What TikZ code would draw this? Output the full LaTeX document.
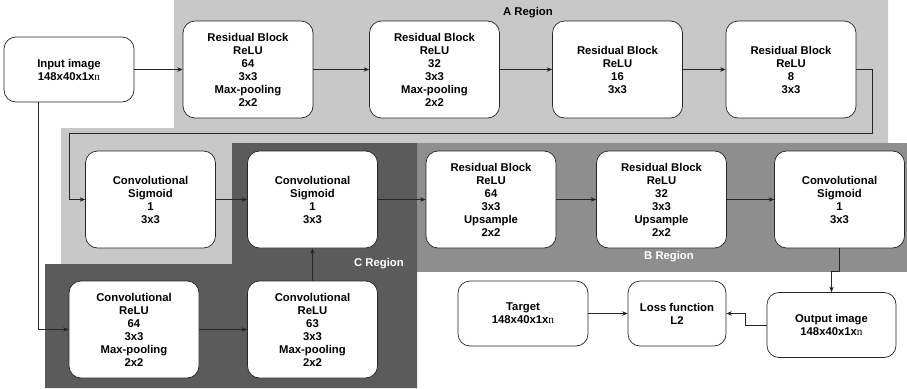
\documentclass[tikz,border=0pt]{standalone}
\usepackage{fontspec}
\setmainfont{Liberation Sans}
\newfontfamily\serifn{Liberation Serif}
\usetikzlibrary{arrows.meta,positioning}
\definecolor{regA}{HTML}{C8C8C8}
\definecolor{regB}{HTML}{8E8E8E}
\definecolor{regC}{HTML}{5B5B5B}
\newcommand{\imgdim}{148x40x1x{\serifn\mdseries n}}

\begin{document}
\begin{tikzpicture}[
    x=1pt, y=-1pt,
    box/.style={rectangle, rounded corners=12pt, draw=black!85, line width=0.7pt, fill=white,
                align=center, minimum width=130pt, minimum height=97pt, inner sep=2pt,
                font=\fontsize{11.3}{13}\selectfont\bfseries},
    sbox/.style={box, minimum height=65pt},
    rlabel/.style={font=\fontsize{11.3}{13}\selectfont\bfseries},
    flow/.style={-{Stealth[length=5.5pt,width=4.5pt]}, line width=0.7pt, black!85}
]
\useasboundingbox (0,0) rectangle (907,388);
% regions
\fill[regA] (174,0) -- (888,0) -- (888,143) -- (232,143) -- (232,264) -- (61,264) -- (61,128) -- (174,128) -- cycle;
\fill[regB] (417,143) rectangle (907,272);
\fill[regC] (232,143) -- (417,143) -- (417,388) -- (45,388) -- (45,264) -- (232,264) -- cycle;
\node[rlabel] (la) at (528,13) {A Region};
\node[rlabel, text=white] (lb) at (669,257) {B Region};
\node[rlabel, text=white] (lc) at (379,264) {C Region};
% top row
\node[sbox] (in) at (69,69.5) {Input image\\\imgdim};
\node[box] (a1) at (248,69.5) {Residual Block\\ReLU\\64\\3x3\\Max-pooling\\2x2};
\node[box] (a2) at (434.5,69.5) {Residual Block\\ReLU\\32\\3x3\\Max-pooling\\2x2};
\node[box] (a3) at (617.5,69.5) {Residual Block\\ReLU\\16\\3x3};
\node[box] (a4) at (791,69.5) {Residual Block\\ReLU\\8\\3x3};
% middle row
\node[box] (s1) at (150.5,199.5) {Convolutional\\Sigmoid\\1\\3x3};
\node[box] (s2) at (312.5,199.5) {Convolutional\\Sigmoid\\1\\3x3};
\node[box] (b1) at (491,199.5) {Residual Block\\ReLU\\64\\3x3\\Upsample\\2x2};
\node[box] (b2) at (661.5,199.5) {Residual Block\\ReLU\\32\\3x3\\Upsample\\2x2};
\node[box] (b3) at (839.5,199.5) {Convolutional\\Sigmoid\\1\\3x3};
% bottom row
\node[box] (c1) at (134,329.5) {Convolutional\\ReLU\\64\\3x3\\Max-pooling\\2x2};
\node[box] (c2) at (312.5,329.5) {Convolutional\\ReLU\\63\\3x3\\Max-pooling\\2x2};
\node[sbox] (tg) at (523,313.5) {Target\\\imgdim};
\node[sbox, minimum width=98pt] (loss) at (677,313.5) {Loss function\\L2};
\node[sbox, minimum width=129pt] (out) at (831.5,325) {Output image\\\imgdim};
% connectors
\coordinate (k1) at (872,133);
\coordinate (k2) at (69,133);
\draw[flow] (in) -- (a1);
\draw[flow] (a1) -- (a2);
\draw[flow] (a2) -- (a3);
\draw[flow] (a3) -- (a4);
\draw[flow] (a4.east) -| (k1) -- (k2) |- (s1.west);
\draw[flow] (s1) -- (s2);
\draw[flow] (s2) -- (b1);
\draw[flow] (b1) -- (b2);
\draw[flow] (b2) -- (b3);
\draw[flow] ([xshift=-31pt]in.south) |- (c1.west);
\draw[flow] (c1) -- (c2);
\draw[flow] (c2) -- (s2);
\draw[flow] (b3.south) -- ++(0,23) -| (out.north);
\draw[flow] (tg) -- (loss);
\draw[flow] (out.west) -- ++(-21,0) |- (loss.east);
\end{tikzpicture}
\end{document}
